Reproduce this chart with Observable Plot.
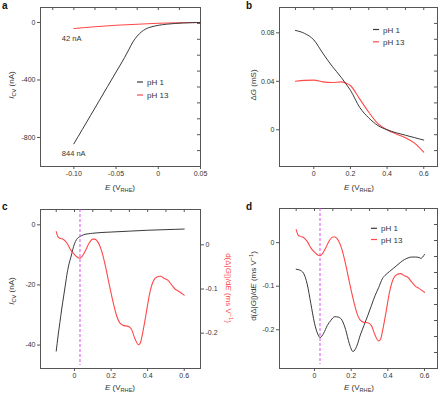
<!DOCTYPE html>
<html><head><meta charset="utf-8">
<script src="https://cdn.jsdelivr.net/npm/d3@7"></script>
<script src="https://cdn.jsdelivr.net/npm/@observablehq/plot@0.6"></script>
<style>
body{margin:0;background:#fff;}
#fig{position:relative;width:448px;height:396px;overflow:hidden;font-family:"Liberation Sans",Arial,Helvetica,sans-serif;}
</style></head><body><div id="fig"></div>
<script>
// ---------- DATA ----------
// Panel a: I_CV (nA) vs E (V_RHE)
const aE_pH1  = [-0.10,-0.09,-0.08,-0.07,-0.06,-0.05,-0.04,-0.035,-0.03,-0.025,-0.02,-0.015,-0.01,-0.005,0,0.01,0.02,0.03,0.04,0.05];
const aI_pH1  = [-844,-745,-645,-545,-445,-345,-245,-190,-135,-95,-66,-46,-34,-26,-20,-12,-7,-3.5,-1.5,0];
const aE_pH13 = [-0.10,-0.075,-0.05,-0.025,0,0.025,0.05];
const aI_pH13 = [-42,-30,-20,-12,-6,-2,0];
const aNotes  = [{E:-0.10, I:-42, label:"42 nA"}, {E:-0.10, I:-844, label:"844 nA"}];

// Panel b: ΔG (mS) vs E
const bE      = [-0.10,-0.05,0,0.05,0.10,0.15,0.175,0.20,0.25,0.30,0.35,0.40,0.45,0.50,0.55,0.60];
const bG_pH1  = [0.082,0.0795,0.0742,0.0630,0.0525,0.0432,0.0380,0.0326,0.0186,0.0098,0.0035,0.0,-0.0025,-0.0045,-0.0065,-0.0085];
const bG_pH13 = [0.0400,0.0408,0.0410,0.0395,0.0390,0.0395,0.0385,0.0365,0.0255,0.0145,0.0050,0.0,-0.0035,-0.0065,-0.0110,-0.0185];

// Panel c: I_CV (nA) pH 1
const cE_pH1 = [-0.10,-0.09,-0.08,-0.07,-0.06,-0.05,-0.04,-0.03,-0.02,-0.01,0,0.01,0.02,0.03,0.05,0.10,0.20,0.30,0.40,0.50,0.60];
const cI_pH1 = [-42,-37,-32.5,-28,-24,-20,-16,-13,-10.8,-8.3,-6.3,-5,-4.3,-3.9,-3.3,-2.8,-2.4,-2.1,-1.8,-1.6,-1.4];

// d(Δ|G|)/dE (ms V^-1) — pH 13 (panels c and d) and pH 1 (panel d)
const dE_pH13 = [-0.10,-0.09,-0.08,-0.06,-0.04,-0.02,0,0.02,0.03,0.04,0.06,0.08,0.10,0.11,0.13,0.15,0.17,0.19,0.21,0.23,0.25,0.27,0.29,0.31,0.33,0.35,0.36,0.37,0.39,0.41,0.43,0.45,0.47,0.49,0.51,0.53,0.55,0.57,0.59,0.60];
const dV_pH13 = [0.030,0.018,0.015,0.012,0.003,-0.012,-0.022,-0.029,-0.030,-0.027,-0.013,0.004,0.013,0.013,0.005,-0.016,-0.050,-0.090,-0.128,-0.160,-0.178,-0.183,-0.184,-0.190,-0.212,-0.226,-0.222,-0.205,-0.160,-0.112,-0.083,-0.073,-0.071,-0.076,-0.080,-0.090,-0.100,-0.105,-0.111,-0.114];
const dE_pH1  = [-0.10,-0.08,-0.06,-0.04,-0.02,0,0.02,0.03,0.05,0.07,0.09,0.11,0.13,0.15,0.17,0.19,0.21,0.23,0.25,0.27,0.29,0.31,0.33,0.35,0.37,0.39,0.41,0.43,0.45,0.47,0.49,0.51,0.53,0.55,0.57,0.58,0.60];
const dV_pH1  = [-0.061,-0.063,-0.070,-0.095,-0.140,-0.185,-0.212,-0.218,-0.208,-0.190,-0.178,-0.170,-0.171,-0.178,-0.200,-0.232,-0.250,-0.238,-0.212,-0.190,-0.168,-0.145,-0.122,-0.103,-0.083,-0.073,-0.066,-0.059,-0.052,-0.045,-0.039,-0.035,-0.033,-0.033,-0.034,-0.036,-0.027];
const markerE = [0.03];

// Tick labels
const aXTicks = [-0.10,-0.05,0,0.05];
const aYTicks = [0,-400,-800];
const bXTicks = [0,0.2,0.4,0.6];
const bYTicks = [0,0.04,0.08];
const cXTicks = [0,0.2,0.4,0.6];
const cYTicks = [0,-20,-40];
const cY2Ticks = [0,-0.1,-0.2];
const dXTicks = [0,0.2,0.4,0.6];
const dYTicks = [0,-0.1,-0.2];
const aTopTicks = [-0.125,-0.10,-0.075,-0.05,-0.025,0,0.025];
const vTopTicks = [-0.1,0,0.1,0.2,0.3,0.4,0.5,0.6];
const series = ["pH 1","pH 13"];

// ---------- STYLE ----------
const FONT = '"Liberation Sans", Arial, Helvetica, sans-serif';
const INK = "#333";
const FRAME = "#555";
const BLACK = "#3a3a3a";
const RED = "#ff4848";
const MAGENTA = "#d64cf2";
const zipE = (E, V) => E.map((e, i) => ({E: e, v: V[i]}));
const num = d => d === 0 ? "0" : String(d);
const fix2 = d => d === 0 ? "0" : d.toFixed(2);
const fix1 = d => d === 0 ? "0" : d.toFixed(1);

const fig = document.getElementById("fig");
function mount(el, left, top) {
  el.style.position = "absolute";
  el.style.left = left + "px";
  el.style.top = top + "px";
  fig.appendChild(el);
}
function minor(domain, n) { // evenly spaced decorative inner ticks
  const [a, b] = domain;
  return d3.range(1, n).map(i => a + (b - a) * i / n);
}

function panel({w, h, ml, mr, mt, mb, xd, yd, xTicks, xFmt, yTicks, yFmt, yAnchor = "left", topTicks, rightTicks = true, frame = true, marks}) {
  const pw = w - ml - mr, ph = h - mt - mb;
  const m = [];
  if (frame) {
    m.push(Plot.frame({stroke: FRAME, strokeWidth: 1}));
    if (topTicks) m.push(Plot.tickX(topTicks, {x: d => d, insetBottom: ph - 3, stroke: FRAME}));
    if (rightTicks) m.push(Plot.tickY(minor(yd, 10), {y: d => d, insetLeft: pw - 3, stroke: FRAME}));
    m.push(Plot.axisX(xTicks, {tickSize: 3, tickPadding: 2, label: null, tickFormat: xFmt, fontSize: 7, stroke: FRAME}));
  }
  if (yTicks) m.push(Plot.axisY(yTicks, {anchor: yAnchor, tickSize: 3, tickPadding: 2, label: null, tickFormat: yFmt, fontSize: 7, stroke: FRAME}));
  return Plot.plot({
    width: w, height: h, marginLeft: ml, marginRight: mr, marginTop: mt, marginBottom: mb,
    x: frame ? {domain: xd} : {domain: xd, axis: null},
    y: {domain: yd},
    style: {background: "transparent", fontFamily: FONT, fontSize: "7px", color: INK, overflow: "visible", maxWidth: "none"},
    marks: [...m, ...marks]
  });
}

// Panel a
mount(panel({
  w: 224, h: 196, ml: 40, mr: 24, mt: 7, mb: 30,
  xd: [-0.1395, 0.05], yd: [-1002, 104],
  xTicks: aXTicks, xFmt: fix2, yTicks: aYTicks, yFmt: num, topTicks: aTopTicks,
  marks: [
    Plot.line(zipE(aE_pH13, aI_pH13), {x: "E", y: "v", stroke: RED, strokeWidth: 1.1, curve: "monotone-x"}),
    Plot.line(zipE(aE_pH1, aI_pH1), {x: "E", y: "v", stroke: BLACK, strokeWidth: 1, curve: "monotone-x"}),
    Plot.text(aNotes, {x: "E", y: "I", text: "label", textAnchor: "start", dx: -12, dy: 10, fontSize: 7.5, fill: INK})
  ]
}), 0, 0);

// Panel b
mount(panel({
  w: 224, h: 196, ml: 55, mr: 11, mt: 7, mb: 30,
  xd: [-0.187, 0.675], yd: [-0.0303, 0.1009],
  xTicks: bXTicks, xFmt: fix1, yTicks: bYTicks, yFmt: fix2, topTicks: vTopTicks,
  marks: [
    Plot.line(zipE(bE, bG_pH13), {x: "E", y: "v", stroke: RED, strokeWidth: 1.1, curve: "monotone-x"}),
    Plot.line(zipE(bE, bG_pH1), {x: "E", y: "v", stroke: BLACK, strokeWidth: 1, curve: "monotone-x"})
  ]
}), 224, 0);

// Panel c (left axis: I_CV)
mount(panel({
  w: 224, h: 200, ml: 40, mr: 24, mt: 13, mb: 28,
  xd: [-0.186, 0.689], yd: [-47.8, 5.1],
  xTicks: cXTicks, xFmt: fix1, yTicks: cYTicks, yFmt: num, topTicks: vTopTicks, rightTicks: false,
  marks: [
    Plot.line(zipE(cE_pH1, cI_pH1), {x: "E", y: "v", stroke: BLACK, strokeWidth: 1, curve: "monotone-x"})
  ]
}), 0, 196);
// Panel c (right axis: derivative, pH 13)
mount(panel({
  w: 224, h: 200, ml: 40, mr: 24, mt: 13, mb: 28,
  xd: [-0.186, 0.689], yd: [-0.280, 0.080],
  xTicks: cXTicks, yTicks: cY2Ticks, yFmt: fix1, yAnchor: "right", frame: false,
  marks: [
    Plot.ruleX(markerE, {stroke: MAGENTA, strokeWidth: 1, strokeDasharray: "3,2", insetBottom: 3}),
    Plot.line(zipE(dE_pH13, dV_pH13), {x: "E", y: "v", stroke: RED, strokeWidth: 1.1, curve: "monotone-x"})
  ]
}), 0, 196);

// Panel d
mount(panel({
  w: 224, h: 200, ml: 55, mr: 11, mt: 12, mb: 28,
  xd: [-0.191, 0.671], yd: [-0.289, 0.0785],
  xTicks: dXTicks, xFmt: fix1, yTicks: dYTicks, yFmt: fix1, topTicks: vTopTicks,
  marks: [
    Plot.ruleX(markerE, {stroke: MAGENTA, strokeWidth: 1, strokeDasharray: "3,2", insetBottom: 4}),
    Plot.line(zipE(dE_pH1, dV_pH1), {x: "E", y: "v", stroke: BLACK, strokeWidth: 1, curve: "monotone-x"}),
    Plot.line(zipE(dE_pH13, dV_pH13), {x: "E", y: "v", stroke: RED, strokeWidth: 1.1, curve: "monotone-x"})
  ]
}), 224, 196);

// ---------- Labels overlay ----------
const svg = d3.create("svg").attr("width", 448).attr("height", 396)
  .style("font-family", FONT).style("pointer-events", "none");
mount(svg.node(), 0, 0);

function rich(x, y, parts, {size = 8, rotate = 0, anchor = "middle", fill = INK, weight = null} = {}) {
  const t = svg.append("text").attr("transform", `translate(${x},${y}) rotate(${rotate})`)
    .attr("text-anchor", anchor).attr("font-size", size).attr("fill", fill);
  if (weight) t.attr("font-weight", weight);
  let shift = 0;
  for (const p of parts) {
    const s = t.append("tspan").text(p.t);
    const target = p.sub ? 2 : p.sup ? -3 : 0;
    if (target !== shift) { s.attr("dy", target - shift); shift = target; }
    if (p.sub || p.sup) s.attr("font-size", size * 0.7);
    if (p.i) s.attr("font-style", "italic");
  }
}
const xLab = [{t: "E", i: 1}, {t: " (V"}, {t: "RHE", sub: 1}, {t: ")"}];
const iLab = [{t: "I", i: 1}, {t: "CV", sub: 1}, {t: " (nA)"}];
const dLab = [{t: "d(Δ|"}, {t: "G", i: 1}, {t: "|)/d"}, {t: "E", i: 1}, {t: " (ms V"}, {t: "−1", sup: 1}, {t: ")"}];

rich(2, 9, [{t: "a"}], {size: 10, anchor: "start", weight: "bold", fill: "#111"});
rich(246, 9, [{t: "b"}], {size: 10, anchor: "start", weight: "bold", fill: "#111"});
rich(2, 210, [{t: "c"}], {size: 10, anchor: "start", weight: "bold", fill: "#111"});
rich(246, 210, [{t: "d"}], {size: 10, anchor: "start", weight: "bold", fill: "#111"});

rich(120, 190, xLab);
rich(359, 190, xLab);
rich(120, 390, xLab);
rich(359, 390, xLab);
rich(14, 85, iLab, {rotate: -90});
rich(256, 85, [{t: "Δ"}, {t: "G", i: 1}, {t: " (mS)"}], {rotate: -90});
rich(14, 291, iLab, {rotate: -90});
rich(226, 288, dLab, {rotate: 90, fill: RED});
rich(255.5, 286, dLab, {rotate: -90});

function legend(x, y, gap) {
  [BLACK, RED].forEach((c, i) => {
    svg.append("line").attr("x1", x).attr("x2", x + 6).attr("y1", y + i * gap).attr("y2", y + i * gap)
      .attr("stroke", c).attr("stroke-width", 1.2);
    rich(x + 10, y + i * gap + 3, [{t: series[i]}], {anchor: "start"});
  });
}
legend(137, 82, 13);
legend(373, 29.5, 12.3);
legend(371, 228.3, 11.2);
</script></body></html>
